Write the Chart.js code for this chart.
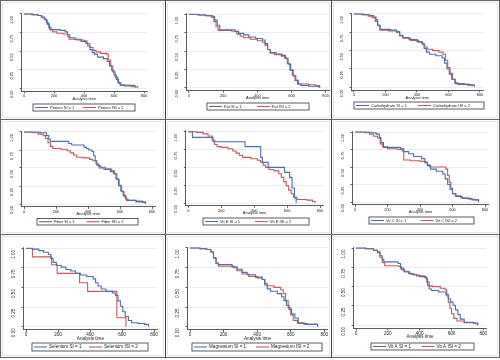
<!DOCTYPE html>
<html>
<head>
<meta charset="utf-8">
<script src="https://cdn.jsdelivr.net/npm/chart.js@4"></script>
<style>
body { margin: 0; background: #fff; }
#fig { position: relative; width: 500px; height: 360px; }
#fig canvas { position: absolute; }
.frame { position: absolute; left: 0; top: 0; width: 498px; height: 356px; border: 1px solid #666; }
.vl { position: absolute; top: 0; width: 1px; height: 358px; background: #444; }
.hl { position: absolute; left: 0; width: 500px; height: 1px; background: #666; }
</style>
</head>
<body>
<div id="fig">
  <div class="frame"></div>
  <div class="vl" style="left:165px"></div>
  <div class="vl" style="left:331px"></div>
  <div class="hl" style="top:119px"></div>
  <div class="hl" style="top:234px"></div>
</div>
<script>
// axis ticks shared by all nine panels
const xTicks = [0, 200, 400, 600, 800];
const yTicks = [0, 0.25, 0.5, 0.75, 1];
const yTickLabels = ['0.00', '0.25', '0.50', '0.75', '1.00'];

// Kaplan-Meier curves: time of each step and survival after it
const proteinSiT = [0, 50, 90, 115, 135, 150, 165, 180, 240, 275, 290, 305, 340, 380, 410, 425, 440, 455, 470, 490, 530, 555, 570, 585, 600, 615, 630, 645, 670, 720, 745];
const proteinSiS = [1, 0.99, 0.98, 0.96, 0.93, 0.88, 0.82, 0.79, 0.78, 0.76, 0.72, 0.68, 0.66, 0.63, 0.61, 0.57, 0.52, 0.48, 0.46, 0.42, 0.40, 0.36, 0.30, 0.24, 0.18, 0.12, 0.07, 0.04, 0.03, 0.02, 0.01];
const proteinIsiT = [0, 60, 95, 120, 140, 155, 170, 190, 220, 260, 290, 300, 350, 400, 420, 440, 460, 480, 510, 550, 562, 578, 592, 608, 625, 640, 700, 740, 758];
const proteinIsiS = [1, 0.99, 0.98, 0.95, 0.92, 0.86, 0.79, 0.76, 0.74, 0.73, 0.70, 0.66, 0.65, 0.64, 0.60, 0.55, 0.51, 0.49, 0.47, 0.46, 0.38, 0.30, 0.22, 0.15, 0.08, 0.045, 0.04, 0.02, 0];

const fatSiT = [0, 60, 100, 140, 150, 165, 180, 270, 290, 320, 350, 390, 430, 445, 460, 475, 510, 545, 565, 580, 595, 610, 625, 640, 655, 700, 760];
const fatSiS = [1, 0.99, 0.98, 0.97, 0.92, 0.85, 0.79, 0.77, 0.74, 0.72, 0.69, 0.67, 0.65, 0.60, 0.52, 0.48, 0.46, 0.44, 0.40, 0.32, 0.24, 0.16, 0.10, 0.05, 0.03, 0.02, 0];
const fatIsiT = [0, 50, 95, 130, 145, 158, 170, 250, 280, 300, 320, 360, 400, 430, 445, 460, 475, 500, 540, 560, 575, 590, 605, 620, 635, 700, 740, 765];
const fatIsiS = [1, 0.99, 0.98, 0.96, 0.90, 0.83, 0.78, 0.77, 0.73, 0.70, 0.68, 0.66, 0.64, 0.62, 0.58, 0.52, 0.47, 0.45, 0.43, 0.40, 0.33, 0.24, 0.17, 0.10, 0.05, 0.04, 0.03, 0];

const carbSiT = [0, 60, 100, 125, 140, 150, 165, 230, 270, 290, 310, 350, 400, 430, 445, 460, 480, 520, 560, 575, 590, 605, 620, 640, 660, 720, 760];
const carbSiS = [1, 0.99, 0.98, 0.96, 0.92, 0.85, 0.79, 0.78, 0.76, 0.71, 0.68, 0.65, 0.62, 0.60, 0.53, 0.48, 0.45, 0.43, 0.40, 0.33, 0.25, 0.18, 0.11, 0.06, 0.04, 0.03, 0.02];
const carbIsiT = [0, 50, 90, 115, 135, 150, 165, 220, 270, 290, 310, 360, 410, 435, 450, 465, 500, 540, 565, 580, 595, 610, 625, 645, 700, 740, 765];
const carbIsiS = [1, 0.99, 0.97, 0.95, 0.90, 0.84, 0.78, 0.77, 0.75, 0.70, 0.67, 0.64, 0.62, 0.58, 0.55, 0.52, 0.50, 0.48, 0.45, 0.37, 0.27, 0.19, 0.11, 0.05, 0.04, 0.03, 0];

const fiberSiT = [0, 100, 140, 155, 165, 280, 298, 375, 390, 405, 425, 435, 445, 455, 470, 500, 540, 560, 575, 590, 605, 620, 635, 650, 700, 740, 760];
const fiberSiS = [1, 0.99, 0.95, 0.90, 0.87, 0.84, 0.82, 0.79, 0.77, 0.75, 0.73, 0.67, 0.60, 0.54, 0.50, 0.48, 0.45, 0.42, 0.35, 0.26, 0.18, 0.12, 0.07, 0.05, 0.03, 0.02, 0.01];
const fiberIsiT = [0, 50, 90, 120, 135, 150, 165, 180, 230, 270, 290, 310, 330, 370, 410, 430, 450, 465, 480, 510, 545, 565, 580, 595, 610, 625, 640, 700, 740, 758];
const fiberIsiS = [1, 0.99, 0.97, 0.95, 0.91, 0.85, 0.80, 0.77, 0.76, 0.74, 0.71, 0.68, 0.65, 0.64, 0.62, 0.60, 0.56, 0.53, 0.51, 0.49, 0.46, 0.42, 0.34, 0.25, 0.17, 0.10, 0.05, 0.04, 0.03, 0];

const vitESiT = [0, 25, 150, 345, 440, 450, 485, 585, 615, 630, 645, 655];
const vitESiS = [1, 0.92, 0.86, 0.79, 0.64, 0.57, 0.50, 0.43, 0.36, 0.21, 0.07, 0];
const vitEIsiT = [0, 50, 90, 120, 145, 160, 175, 200, 240, 270, 290, 310, 330, 380, 420, 440, 455, 470, 490, 520, 550, 565, 580, 595, 610, 625, 640, 660, 720, 755, 770];
const vitEIsiS = [1, 0.99, 0.97, 0.94, 0.88, 0.82, 0.79, 0.78, 0.76, 0.73, 0.70, 0.67, 0.64, 0.62, 0.60, 0.57, 0.53, 0.50, 0.47, 0.45, 0.41, 0.36, 0.30, 0.24, 0.18, 0.13, 0.08, 0.05, 0.04, 0.02, 0];

const vitCSiT = [0, 90, 130, 150, 160, 175, 280, 300, 330, 360, 410, 430, 445, 465, 500, 540, 555, 570, 585, 600, 620, 660, 720, 760];
const vitCSiS = [1, 0.99, 0.97, 0.92, 0.85, 0.78, 0.76, 0.72, 0.69, 0.65, 0.62, 0.57, 0.52, 0.47, 0.44, 0.40, 0.33, 0.25, 0.18, 0.12, 0.08, 0.05, 0.03, 0];
const vitCIsiT = [0, 60, 90, 115, 140, 155, 170, 200, 260, 290, 300, 340, 400, 430, 445, 460, 560, 570, 580, 590, 600, 620, 650, 700, 740, 760];
const vitCIsiS = [1, 0.99, 0.97, 0.94, 0.91, 0.83, 0.79, 0.76, 0.75, 0.73, 0.60, 0.59, 0.58, 0.56, 0.53, 0.50, 0.47, 0.38, 0.28, 0.20, 0.12, 0.09, 0.06, 0.04, 0.03, 0];

const selSiT = [0, 40, 80, 110, 140, 155, 170, 190, 220, 250, 280, 310, 340, 380, 420, 435, 450, 470, 500, 540, 560, 575, 590, 605, 620, 640, 660, 700, 740, 765];
const selSiS = [1, 0.99, 0.97, 0.95, 0.92, 0.87, 0.82, 0.78, 0.76, 0.73, 0.71, 0.68, 0.66, 0.64, 0.61, 0.56, 0.52, 0.48, 0.45, 0.43, 0.40, 0.33, 0.26, 0.19, 0.13, 0.08, 0.05, 0.04, 0.03, 0];
const selIsiT = [0, 40, 160, 195, 335, 385, 568, 625];
const selIsiS = [1, 0.89, 0.79, 0.68, 0.56, 0.45, 0.115, 0];

const magSiT = [0, 60, 100, 125, 140, 155, 170, 250, 280, 310, 340, 390, 430, 445, 460, 480, 520, 545, 560, 575, 590, 605, 625, 645, 680, 760];
const magSiS = [1, 0.99, 0.98, 0.95, 0.88, 0.81, 0.79, 0.76, 0.73, 0.69, 0.66, 0.63, 0.60, 0.53, 0.48, 0.45, 0.42, 0.38, 0.33, 0.27, 0.22, 0.16, 0.11, 0.05, 0.03, 0];
const magIsiT = [0, 60, 100, 125, 140, 155, 170, 260, 280, 310, 350, 400, 430, 445, 460, 500, 540, 555, 570, 585, 600, 615, 640, 700, 760];
const magIsiS = [1, 0.99, 0.98, 0.95, 0.87, 0.80, 0.77, 0.75, 0.71, 0.67, 0.64, 0.62, 0.60, 0.55, 0.52, 0.50, 0.47, 0.42, 0.33, 0.24, 0.15, 0.08, 0.04, 0.03, 0];

const vitASiT = [0, 60, 110, 135, 150, 165, 175, 265, 280, 300, 330, 360, 400, 440, 450, 460, 475, 520, 565, 580, 595, 610, 625, 640, 655, 680, 740, 765];
const vitASiS = [1, 0.99, 0.97, 0.95, 0.90, 0.85, 0.82, 0.80, 0.74, 0.70, 0.67, 0.65, 0.63, 0.60, 0.52, 0.47, 0.45, 0.43, 0.40, 0.34, 0.30, 0.26, 0.20, 0.14, 0.08, 0.04, 0.03, 0];
const vitAIsiT = [0, 60, 110, 135, 150, 165, 180, 270, 285, 305, 340, 380, 430, 445, 460, 480, 530, 560, 570, 580, 590, 600, 615, 635, 680, 740, 765];
const vitAIsiS = [1, 0.99, 0.97, 0.94, 0.88, 0.81, 0.77, 0.76, 0.72, 0.69, 0.66, 0.64, 0.62, 0.56, 0.51, 0.50, 0.48, 0.46, 0.38, 0.30, 0.22, 0.15, 0.09, 0.055, 0.035, 0.02, 0];

const BLUE = '#4b6fa8';
const RED = '#c25a5a';
const X_MIN = -15, X_MAX = 820, Y_MIN = -0.04, Y_MAX = 1.01;
const YW = 14;

Chart.defaults.font.family = '"Liberation Sans", Arial, sans-serif';
Chart.defaults.color = '#222';

// panel boxes (canvas), where 0/800 and 1/0 fall, and legend box (all page px)
const panels = [
  { names: ['Protein SI = 1', 'Protein ISI = 2'], t1: proteinSiT, s1: proteinSiS, t2: proteinIsiT, s2: proteinIsiS,
    box: [1, 1, 164, 118], x0: 24, x800: 144, y1: 14, y0: 88.3, leg: [33, 104, 102, 7], fs: 4, xh: 10 },
  { names: ['Fat SI = 1', 'Fat ISI = 2'], t1: fatSiT, s1: fatSiS, t2: fatIsiT, s2: fatIsiS,
    box: [166, 1, 165, 118], x0: 189, x800: 325.7, y1: 14.3, y0: 87.7, leg: [207, 103, 102, 7], fs: 4, xh: 10 },
  { names: ['Carbohydrate SI = 1', 'Carbohydrate ISI = 2'], t1: carbSiT, s1: carbSiS, t2: carbIsiT, s2: carbIsiS,
    box: [332, 1, 167, 118], x0: 354, x800: 480, y1: 14, y0: 87.3, leg: [354, 102, 130, 7], fs: 4, xh: 10 },
  { names: ['Fiber SI = 1', 'Fiber ISI = 2'], t1: fiberSiT, s1: fiberSiS, t2: fiberIsiT, s2: fiberIsiS,
    box: [1, 120, 164, 114], x0: 24, x800: 152, y1: 132, y0: 204, leg: [37, 218.5, 101, 6.5], fs: 4, xh: 9.5 },
  { names: ['Vit E SI = 1', 'Vit E ISI = 2'], t1: vitESiT, s1: vitESiS, t2: vitEIsiT, s2: vitEIsiS,
    box: [166, 120, 165, 114], x0: 188.3, x800: 320, y1: 131.7, y0: 203, leg: [203, 218, 106, 7], fs: 4, xh: 9.5 },
  { names: ['Vit C SI = 1', 'Vit C ISI = 2'], t1: vitCSiT, s1: vitCSiS, t2: vitCIsiT, s2: vitCIsiS,
    box: [332, 120, 167, 114], x0: 355, x800: 485, y1: 132, y0: 202, leg: [369, 217, 105, 7], fs: 4, xh: 9.5 },
  { names: ['Selenium SI = 1', 'Selenium ISI = 2'], t1: selSiT, s1: selSiS, t2: selIsiT, s2: selIsiS,
    box: [1, 235, 164, 122], x0: 26, x800: 154, y1: 248.3, y0: 326.7, leg: [32, 343, 116, 8], fs: 4.6, xh: 11.5 },
  { names: ['Magnesium SI = 1', 'Magnesium ISI = 2'], t1: magSiT, s1: magSiS, t2: magIsiT, s2: magIsiS,
    box: [166, 235, 165, 122], x0: 190, x800: 324.3, y1: 248, y0: 326.7, leg: [192, 343, 130, 8], fs: 4.6, xh: 11.5 },
  { names: ['Vit A SI = 1', 'Vit A ISI = 2'], t1: vitASiT, s1: vitASiS, t2: vitAIsiT, s2: vitAIsiS,
    box: [332, 235, 167, 122], x0: 356, x800: 483.3, y1: 248, y0: 325.3, leg: [371, 343, 103, 7], fs: 4.6, xh: 11.5 }
];

// inner frame, rotated y labels and the boxed legend
const decor = {
  id: 'decor',
  beforeDraw(chart) {
    const ctx = chart.ctx;
    ctx.save();
    ctx.strokeStyle = '#dfe6ec';
    ctx.lineWidth = 1;
    ctx.strokeRect(1.5, 1.5, chart.width - 3, chart.height - 3);
    ctx.restore();
  },
  afterDraw(chart) {
    const p = chart.options.plugins.decor;
    const ctx = chart.ctx;
    const ys = chart.scales.y;
    ctx.save();
    ctx.fillStyle = '#222';
    ctx.font = p.fs + 'px "Liberation Sans", Arial, sans-serif';
    ctx.textAlign = 'center';
    ctx.textBaseline = 'middle';
    yTicks.forEach((v, i) => {
      ctx.save();
      ctx.translate(ys.right - 10, ys.getPixelForValue(v) + 6);
      ctx.rotate(-Math.PI / 2);
      ctx.fillText(yTickLabels[i], 0, 0);
      ctx.restore();
    });

    const [lx, ly, lw, lh] = p.leg;
    ctx.strokeStyle = '#333';
    ctx.lineWidth = 0.8;
    ctx.strokeRect(lx, ly, lw, lh);
    ctx.textAlign = 'left';
    chart.data.datasets.forEach((ds, i) => {
      const sx = lx + 2 + i * (lw / 2 - 3);
      const cy = ly + lh / 2;
      ctx.strokeStyle = ds.borderColor;
      ctx.lineWidth = 1.1;
      ctx.beginPath();
      ctx.moveTo(sx, cy);
      ctx.lineTo(sx + 13, cy);
      ctx.stroke();
      ctx.fillText(ds.label, sx + 15, cy);
    });
    ctx.restore();
  }
};

const fig = document.getElementById('fig');

panels.forEach(p => {
  const [bx, by, bw, bh] = p.box;
  const canvas = document.createElement('canvas');
  canvas.width = bw;
  canvas.height = bh;
  canvas.style.left = bx + 'px';
  canvas.style.top = by + 'px';
  fig.appendChild(canvas);

  const kx = (p.x800 - p.x0) / 800;
  const ky = p.y0 - p.y1;
  const left = p.x0 + X_MIN * kx - bx;
  const right = p.x0 + X_MAX * kx - bx;
  const top = p.y1 - (Y_MAX - 1) * ky - by;
  const bottom = p.y0 - Y_MIN * ky - by;
  const font = { size: p.fs };

  new Chart(canvas, {
    type: 'line',
    data: {
      datasets: [
        { label: p.names[0], data: p.t1.map((t, i) => ({ x: t, y: p.s1[i] })), borderColor: BLUE },
        { label: p.names[1], data: p.t2.map((t, i) => ({ x: t, y: p.s2[i] })), borderColor: RED }
      ].map(ds => Object.assign(ds, { stepped: 'before', borderWidth: 1.1, pointRadius: 0, fill: false }))
    },
    options: {
      responsive: false,
      animation: false,
      events: [],
      layout: { padding: { left: left - YW, right: bw - right, top: top, bottom: bh - bottom - p.xh } },
      scales: {
        x: {
          type: 'linear', min: X_MIN, max: X_MAX,
          afterBuildTicks: s => { s.ticks = xTicks.map(v => ({ value: v })); },
          afterFit: s => { s.height = p.xh; },
          ticks: { font: font, padding: 0.5, maxRotation: 0, autoSkip: false, color: '#222' },
          grid: { drawOnChartArea: false, tickLength: 2, tickColor: '#333', lineWidth: 0.8 },
          border: { color: '#333', width: 0.8 },
          title: { display: true, text: 'Analysis time', font: font, padding: 0, color: '#222' }
        },
        y: {
          type: 'linear', min: Y_MIN, max: Y_MAX,
          afterBuildTicks: s => { s.ticks = yTicks.map(v => ({ value: v })); },
          afterFit: s => { s.width = YW; },
          ticks: { display: false },
          grid: { color: '#e2e9ef', tickLength: 2, tickColor: '#333', lineWidth: 0.8 },
          border: { color: '#333', width: 0.8 }
        }
      },
      plugins: {
        legend: { display: false },
        tooltip: { enabled: false },
        decor: { fs: p.fs, leg: [p.leg[0] - bx, p.leg[1] - by, p.leg[2], p.leg[3]] }
      }
    },
    plugins: [decor]
  });
});
</script>
</body>
</html>
